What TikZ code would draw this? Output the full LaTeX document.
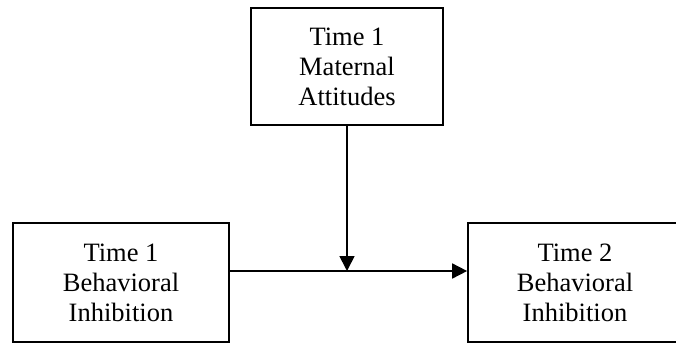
\documentclass[tikz,border=0pt]{standalone}
\usepackage{fontspec}
\setmainfont{Liberation Serif}
\usetikzlibrary{arrows.meta}
\begin{document}
\begin{tikzpicture}[x=1pt,y=1pt,
  box/.style={draw=black, line width=1.7pt, align=center, inner sep=0pt,
    font=\fontsize{26.5}{30}\selectfont},
  link/.style={draw=black, line width=1.7pt, -{Triangle[length=15pt,width=15pt]}}]
  \useasboundingbox (0,0) rectangle (676,-343);
  % the three measures
  \node[box, minimum width=192pt, minimum height=117pt] (mat) at (347,-66.5)
    {Time 1\\Maternal\\Attitudes};
  \node[box, minimum width=216pt, minimum height=119pt] (bi1) at (121,-282.5)
    {Time 1\\Behavioral\\Inhibition};
  \node[box, minimum width=214pt, minimum height=119pt] (bi2) at (575,-282.5)
    {Time 2\\Behavioral\\Inhibition};
  % path from Time 1 to Time 2 and the moderating arrow onto it
  \coordinate (hs) at ([yshift=11.5pt]bi1.east);
  \coordinate (hj) at (mat.south |- hs);
  \draw[link] (hs) -- (hs -| bi2.west);
  \draw[link] (mat.south) -- (hj);
\end{tikzpicture}
\end{document}
